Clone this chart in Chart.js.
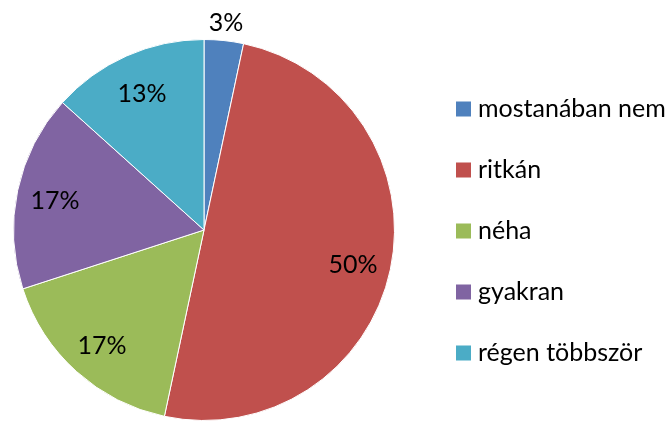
<!DOCTYPE html>
<html>
<head>
<meta charset="utf-8">
<script src="https://cdn.jsdelivr.net/npm/chart.js@4"></script>
<style>
  html, body { margin: 0; padding: 0; background: #fff; }
  #wrap { width: 670px; height: 421px; position: relative; }
</style>
</head>
<body>
<div id="wrap"><canvas id="ChartPie"></canvas></div>
<script>
const labels = ["mostanában nem", "ritkán", "néha", "gyakran", "régen többször"];
const values = [1, 15, 5, 5, 4];
const colors = ["#4F81BD", "#C0504D", "#9BBB59", "#8064A2", "#4BACC6"];

const FONT = "Lato, 'Open Sans', sans-serif";

// percent labels on the slices
const sliceLabels = {
  id: "sliceLabels",
  afterDatasetsDraw(chart) {
    const ctx = chart.ctx;
    const meta = chart.getDatasetMeta(0);
    const total = values.reduce((a, b) => a + b, 0);
    ctx.save();
    ctx.font = "25px " + FONT;
    ctx.fillStyle = "#000";
    ctx.textAlign = "center";
    ctx.textBaseline = "middle";
    meta.data.forEach((arc, i) => {
      const pct = Math.round((values[i] / total) * 100);
      const mid = (arc.startAngle + arc.endAngle) / 2;
      // small slice label goes outside
      const r = pct < 5 ? arc.outerRadius * 1.11 : arc.outerRadius * 0.8;
      const x = arc.x + Math.cos(mid) * r;
      const y = arc.y + Math.sin(mid) * r + 3;
      ctx.fillText(pct + "%", x, y);
    });
    ctx.restore();
  },
};

// legend at the right
const sideLegend = {
  id: "sideLegend",
  afterDraw(chart) {
    const ctx = chart.ctx;
    ctx.save();
    ctx.font = "25px " + FONT;
    ctx.textBaseline = "middle";
    labels.forEach((label, i) => {
      const y = 109 + i * 61;
      ctx.fillStyle = colors[i];
      ctx.fillRect(456, y - 7.5, 15, 15);
      ctx.fillStyle = "#000";
      ctx.fillText(label, 478, y);
    });
    ctx.restore();
  },
};

new Chart(document.getElementById("ChartPie"), {
  type: "pie",
  data: {
    labels: labels,
    datasets: [
      {
        data: values,
        backgroundColor: colors,
        borderColor: "#fff",
        borderWidth: 1,
      },
    ],
  },
  options: {
    responsive: true,
    maintainAspectRatio: false,
    animation: false,
    layout: {
      padding: { left: 13, top: 39, bottom: 0, right: 275 },
    },
    plugins: {
      legend: { display: false },
      tooltip: { enabled: false },
    },
  },
  plugins: [sliceLabels, sideLegend],
});
</script>
</body>
</html>
